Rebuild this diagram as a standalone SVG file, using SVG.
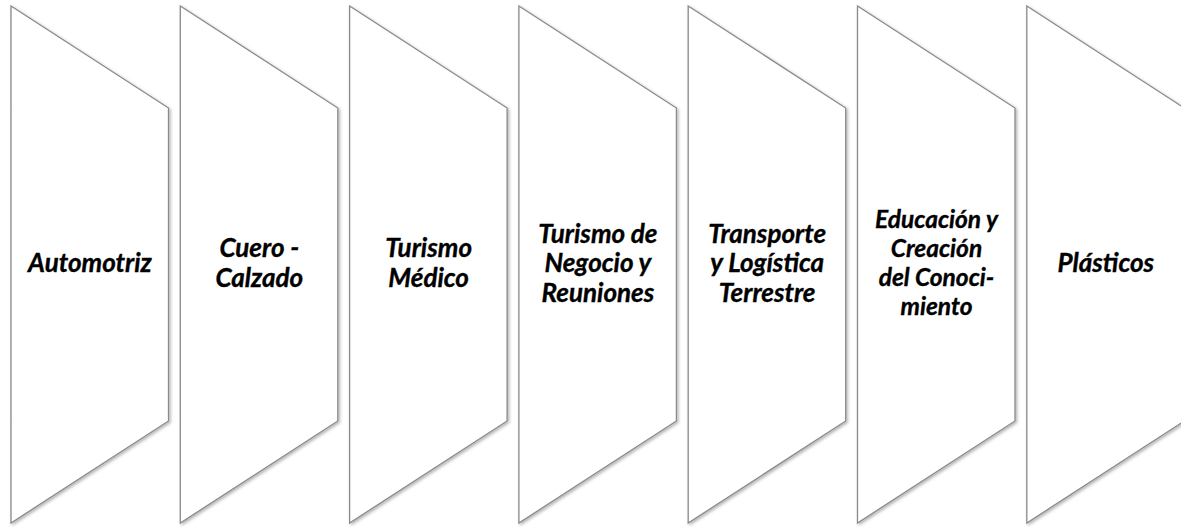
<svg xmlns="http://www.w3.org/2000/svg" width="1181" height="527" viewBox="0 0 1181 527">
<defs>
<filter id="sh" x="-10%" y="-10%" width="130%" height="130%">
<feDropShadow dx="1.5" dy="1.5" stdDeviation="1.5" flood-color="#000" flood-opacity="0.3"/>
</filter>
<path id="shape" d="M0,0 L157.5,102 L157.5,415 L0,517 Z"/>
</defs>
<style>
.s{fill:#fff;stroke:#8a8a8a;stroke-width:1.3;filter:url(#sh);}
.t{font-family:Lato,"Open Sans",sans-serif;font-weight:bold;font-style:italic;font-size:26px;fill:#000;stroke:#000;stroke-width:0.35;text-anchor:middle;}
.sm{font-size:24.5px;}
</style>
<rect width="1181" height="527" fill="#fff"/>
<g id="node1" transform="translate(11,6)"><use href="#shape" class="s"/><text class="t" x="79" y="266">Automotriz</text></g>
<g id="node2" transform="translate(180.3,6)"><use href="#shape" class="s"/><text class="t" x="79" y="251.2">Cuero -</text><text class="t" x="79" y="280.7">Calzado</text></g>
<g id="node3" transform="translate(349.6,6)"><use href="#shape" class="s"/><text class="t" x="79" y="251.2">Turismo</text><text class="t" x="79" y="280.7">Médico</text></g>
<g id="node4" transform="translate(518.9,6)"><use href="#shape" class="s"/><text class="t" x="79" y="236.5">Turismo de</text><text class="t" x="79" y="266">Negocio y</text><text class="t" x="79" y="295.5">Reuniones</text></g>
<g id="node5" transform="translate(688.2,6)"><use href="#shape" class="s"/><text class="t" x="79" y="236.5">Transporte</text><text class="t" x="79" y="266">y Logística</text><text class="t" x="79" y="295.5">Terrestre</text></g>
<g id="node6" transform="translate(857.5,6)"><use href="#shape" class="s"/><text class="t sm" x="79" y="222.4">Educación y</text><text class="t sm" x="79" y="251.2">Creación</text><text class="t sm" x="79" y="280">del Conoci-</text><text class="t sm" x="79" y="308.8">miento</text></g>
<g id="node7" transform="translate(1026.8,6)"><use href="#shape" class="s"/><text class="t" x="79" y="266">Plásticos</text></g>
<g id="connectors"/>
</svg>
